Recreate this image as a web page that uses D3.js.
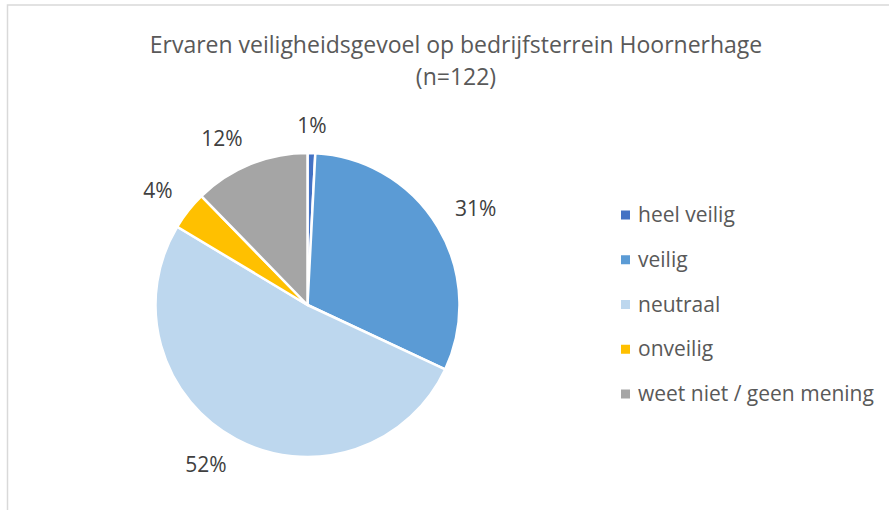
<!DOCTYPE html>
<html lang="nl">
<head>
<meta charset="utf-8">
<title>Ervaren veiligheidsgevoel</title>
<script src="https://d3js.org/d3.v7.min.js"></script>
<style>
  body { margin: 0; background: #fff; }
  text { font-family: "Open Sans", "Noto Sans", sans-serif; }
</style>
</head>
<body>
<div id="chart"></div>
<script>
// data (n=122)
var categories = ["heel veilig", "veilig", "neutraal", "onveilig", "weet niet / geen mening"];
var counts = [1, 38, 63, 5, 15];
var colors = ["#4472C4", "#5B9BD5", "#BDD7EE", "#FFC000", "#A5A5A5"];
var titleLines = ["Ervaren veiligheidsgevoel op bedrijfsterrein Hoornerhage", "(n=122)"];

var width = 889, height = 510;
var cx = 307.5, cy = 305, radius = 152;
var total = d3.sum(counts);

var svg = d3.select("#chart")
  .append("svg")
    .attr("width", width)
    .attr("height", height);

// chart frame (only left and top edge visible)
svg.append("rect")
  .attr("x", 7.5).attr("y", 5)
  .attr("width", 1000).attr("height", 1000)
  .attr("fill", "none")
  .attr("stroke", "#d9d9d9")
  .attr("stroke-width", 1.5);

// title
svg.append("g").selectAll("text")
  .data(titleLines)
  .enter().append("text")
    .attr("x", 456)
    .attr("y", function(d, i) { return 53 + i * 32; })
    .attr("text-anchor", "middle")
    .attr("fill", "#595959")
    .style("font-size", "23px")
    .text(function(d) { return d; });

var data = categories.map(function(c, i) {
  return {name: c, value: counts[i], color: colors[i]};
});

var pie = d3.pie().sort(null).value(function(d) { return d.value; });
var arcs = pie(data);

var arc = d3.arc().innerRadius(0).outerRadius(radius);

var g = svg.append("g")
  .attr("transform", "translate(" + cx + "," + cy + ")");

g.selectAll("path")
  .data(arcs)
  .enter().append("path")
    .attr("d", arc)
    .attr("fill", function(d) { return d.data.color; })
    .attr("stroke", "#fff")
    .attr("stroke-width", 2.5)
    .attr("stroke-linejoin", "round");

// labels outside the pie, nearest corner of the label touches labelR
var labelR = 172;
g.selectAll("text.lbl")
  .data(arcs)
  .enter().append("text")
    .attr("class", "lbl")
    .each(function(d) {
      var a = (d.startAngle + d.endAngle) / 2;
      var s = Math.sin(a), c = Math.cos(a);
      var t = d3.select(this);
      t.attr("x", s * labelR)
       .attr("y", -c * labelR)
       .attr("text-anchor", s > 0.15 ? "start" : (s < -0.15 ? "end" : "middle"))
       .attr("dy", c < 0 ? "0.72em" : "0");
    })
    .attr("fill", "#404040")
    .style("font-size", "21px")
    .text(function(d) { return Math.round(d.data.value / total * 100) + "%"; });

// legend
var ly = d3.scalePoint().domain(categories).range([215, 394]);
var legend = svg.append("g").selectAll("g")
  .data(data)
  .enter().append("g")
    .attr("transform", function(d) { return "translate(621," + ly(d.name) + ")"; });

legend.append("rect")
  .attr("x", 0).attr("y", -4.5)
  .attr("width", 9).attr("height", 9)
  .attr("fill", function(d) { return d.color; });

legend.append("text")
  .attr("x", 17)
  .attr("y", 7)
  .attr("fill", "#595959")
  .style("font-size", "21px")
  .text(function(d) { return d.name; });
</script>
</body>
</html>
